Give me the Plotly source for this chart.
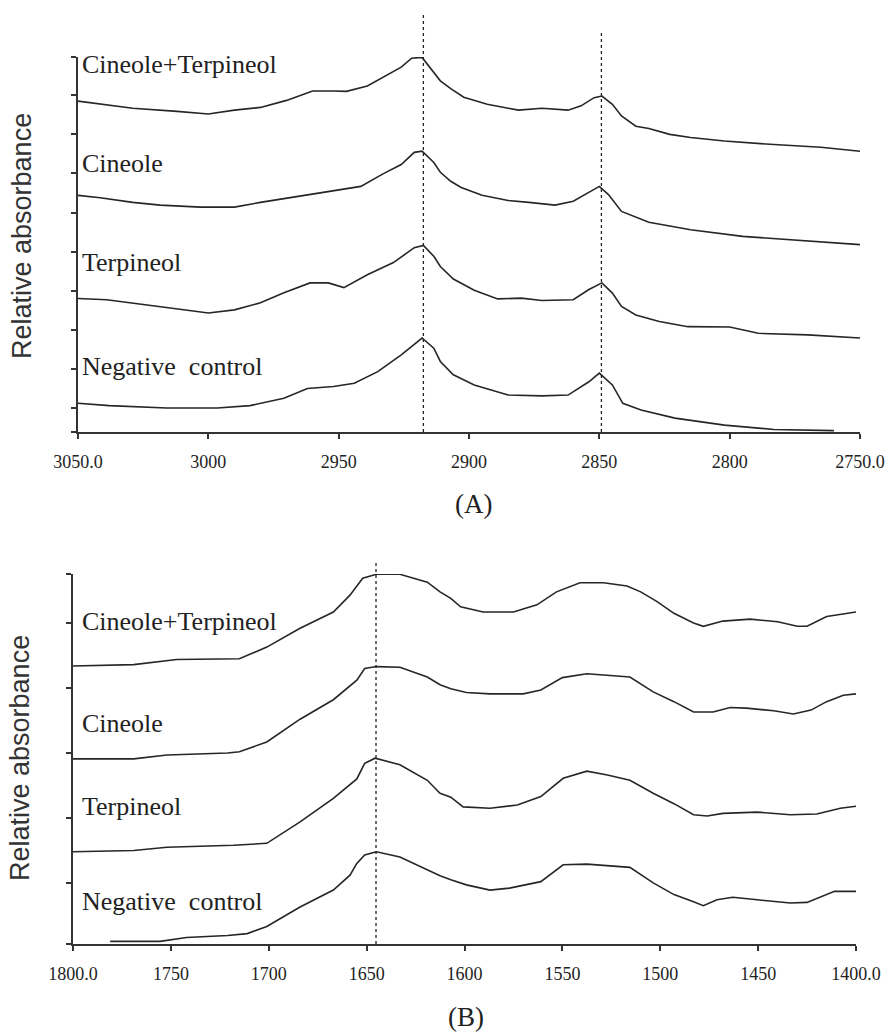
import plotly.graph_objects as go

# ---------------- Panel A (C-H stretching region) ----------------
a_ticks = [3050, 3000, 2950, 2900, 2850, 2800, 2750]
a_ticktext = ["3050.0", "3000", "2950", "2900", "2850", "2800", "2750.0"]
a_peaks = [2917.5, 2849.2]

a_ct_x = [3050, 3029, 3012, 3000, 2990, 2980, 2970, 2963, 2960, 2952, 2947, 2939, 2933, 2926, 2922, 2918,
          2911, 2907, 2902, 2893, 2885, 2881, 2872, 2862, 2857, 2852, 2849, 2845, 2841.5, 2836, 2831, 2823,
          2815, 2802, 2783, 2765, 2750]
a_ct_y = [7.85, 7.67, 7.59, 7.52, 7.62, 7.69, 7.87, 8.05, 8.11, 8.11, 8.10, 8.24, 8.47, 8.72, 8.95, 8.97,
          8.37, 8.17, 7.95, 7.77, 7.67, 7.62, 7.67, 7.62, 7.73, 7.94, 7.98, 7.77, 7.47, 7.21, 7.15, 7.0,
          6.92, 6.83, 6.74, 6.67, 6.57]

a_ci_x = [3050, 3041.5, 3029, 3018.5, 3003, 2990, 2980, 2965, 2952, 2941.5, 2933, 2926, 2921, 2918, 2913.5,
          2911, 2907, 2903, 2895, 2885, 2877, 2867, 2860, 2854, 2850, 2846.5, 2841.5, 2831, 2815, 2795,
          2772, 2750]
a_ci_y = [5.44, 5.38, 5.26, 5.19, 5.14, 5.14, 5.26, 5.42, 5.55, 5.67, 5.99, 6.23, 6.54, 6.57, 6.28,
          6.03, 5.80, 5.64, 5.44, 5.31, 5.26, 5.19, 5.29, 5.51, 5.67, 5.46, 5.03, 4.75, 4.56, 4.39,
          4.29, 4.18]

a_te_x = [3050, 3039, 3022, 3009.6, 3000, 2990, 2980, 2971, 2961, 2954, 2948, 2939, 2929, 2921, 2917.5,
          2913.5, 2911, 2906, 2898, 2889, 2880, 2872, 2860, 2854, 2849, 2845, 2841.5, 2836, 2827, 2816,
          2800, 2789, 2770, 2750]
a_te_y = [2.80, 2.77, 2.62, 2.51, 2.43, 2.51, 2.69, 2.95, 3.20, 3.20, 3.08, 3.41, 3.72, 4.10, 4.16,
          3.88, 3.62, 3.30, 3.01, 2.79, 2.81, 2.75, 2.77, 3.03, 3.20, 2.94, 2.60, 2.38, 2.21, 2.08,
          2.07, 1.91, 1.87, 1.79]

a_nc_x = [3050, 3038, 3016, 2996.5, 2984, 2971, 2962, 2952, 2944, 2935, 2926, 2918, 2913.5, 2911, 2906,
          2898, 2885, 2872, 2862, 2854, 2850, 2845, 2841, 2834, 2821, 2802, 2783, 2760]
a_nc_y = [0.12, 0.06, 0.0, 0.0, 0.06, 0.25, 0.50, 0.55, 0.63, 0.93, 1.36, 1.79, 1.53, 1.19, 0.85,
          0.59, 0.33, 0.31, 0.33, 0.67, 0.89, 0.59, 0.12, -0.05, -0.26, -0.44, -0.55, -0.58]

# ---------------- Panel B (amide region) ----------------
b_ticks = [1800, 1750, 1700, 1650, 1600, 1550, 1500, 1450, 1400]
b_ticktext = ["1800.0", "1750", "1700", "1650", "1600", "1550", "1500", "1450", "1400.0"]
b_peaks = [1645.2]

b_ct_x = [1800, 1769, 1747, 1715, 1701, 1684, 1667, 1658.5, 1652, 1645, 1633, 1619, 1612.5, 1607, 1602,
          1590.5, 1575, 1563, 1553, 1541, 1529, 1517, 1510, 1501.6, 1493, 1483, 1478, 1468, 1454, 1440,
          1430, 1425, 1415, 1400]
b_ct_y = [3.34, 3.36, 3.44, 3.45, 3.63, 3.92, 4.17, 4.43, 4.69, 4.75, 4.75, 4.63, 4.48, 4.38, 4.25,
          4.17, 4.17, 4.28, 4.48, 4.62, 4.62, 4.57, 4.48, 4.33, 4.15, 4.0, 3.95, 4.03, 4.06, 4.02,
          3.95, 3.95, 4.10, 4.17]

b_ci_x = [1800, 1769, 1752, 1721, 1715, 1701, 1684, 1667, 1655, 1651, 1645, 1633, 1619, 1612.5, 1607,
          1599, 1587, 1570, 1561, 1550, 1537.5, 1515.5, 1503.6, 1493, 1483, 1473, 1464.3, 1456, 1442,
          1432, 1423, 1415, 1406.5, 1400]
b_ci_y = [1.91, 1.91, 1.97, 2.0, 2.02, 2.17, 2.52, 2.82, 3.12, 3.30, 3.33, 3.32, 3.17, 3.05, 2.99,
          2.93, 2.91, 2.91, 2.97, 3.16, 3.22, 3.17, 2.94, 2.79, 2.63, 2.63, 2.70, 2.69, 2.65,
          2.60, 2.66, 2.79, 2.89, 2.91]

b_te_x = [1800, 1769, 1752, 1718, 1701, 1684, 1667, 1655, 1651, 1645.7, 1633, 1619, 1612.5, 1607, 1600.7,
          1587, 1573, 1561, 1549.6, 1537.5, 1527, 1515.5, 1503.6, 1493, 1483, 1476, 1468, 1450.5, 1433.6,
          1420, 1408, 1400]
b_te_y = [0.48, 0.50, 0.55, 0.58, 0.61, 0.94, 1.30, 1.60, 1.84, 1.92, 1.82, 1.58, 1.38, 1.32, 1.17,
          1.15, 1.20, 1.33, 1.61, 1.72, 1.66, 1.58, 1.38, 1.22, 1.05, 1.03, 1.07, 1.09, 1.05,
          1.06, 1.15, 1.18]

b_nc_x = [1781, 1755.5, 1742, 1721, 1711, 1701, 1684, 1667, 1658.5, 1655, 1651, 1645, 1633, 1619, 1612.5,
          1607, 1599, 1587, 1577, 1561, 1549.6, 1537.5, 1515.5, 1503.6, 1493, 1483, 1478, 1471, 1463,
          1450.5, 1433.6, 1425, 1411, 1400]
b_nc_y = [-0.90, -0.90, -0.84, -0.81, -0.78, -0.67, -0.37, -0.11, 0.12, 0.30, 0.43, 0.48, 0.40, 0.20, 0.11,
          0.05, -0.03, -0.11, -0.08, 0.02, 0.28, 0.29, 0.24, 0.0, -0.18, -0.29, -0.35, -0.26, -0.22,
          -0.26, -0.31, -0.30, -0.13, -0.13]

labels = ["Cineole+Terpineol", "Cineole", "Terpineol", "Negative\u00a0\u00a0control"]

LINE = "#262626"
AX = "#333333"
W, H = 889, 1034

fig = go.Figure()
for xs, ys in [(a_ct_x, a_ct_y), (a_ci_x, a_ci_y), (a_te_x, a_te_y), (a_nc_x, a_nc_y)]:
    fig.add_trace(go.Scatter(x=xs, y=ys, mode="lines", line=dict(color=LINE, width=1.6),
                             xaxis="x", yaxis="y", showlegend=False, hoverinfo="skip"))
for xs, ys in [(b_ct_x, b_ct_y), (b_ci_x, b_ci_y), (b_te_x, b_te_y), (b_nc_x, b_nc_y)]:
    fig.add_trace(go.Scatter(x=xs, y=ys, mode="lines", line=dict(color=LINE, width=1.6),
                             xaxis="x2", yaxis="y2", showlegend=False, hoverinfo="skip"))

tickfont = dict(family="Liberation Serif, Times New Roman, serif", size=18, color="#222")
xcommon = dict(showline=True, linecolor=AX, linewidth=1.5, ticks="outside", ticklen=5, tickwidth=1.5,
               tickcolor=AX, showgrid=False, zeroline=False, tickfont=tickfont, ticklabelstandoff=8,
               automargin=False)
ycommon = dict(showline=True, linecolor=AX, linewidth=1.5, ticks="outside", ticklen=5, tickwidth=1.5,
               tickcolor=AX, showgrid=False, zeroline=False, showticklabels=False, automargin=False)

a_yr = [-0.615, 8.98]
b_yr = [-0.94, 4.755]

fig.update_layout(
    width=W, height=H, margin=dict(l=0, r=0, t=0, b=0, autoexpand=False),
    paper_bgcolor="white", plot_bgcolor="white",
    xaxis=dict(domain=[78 / W, 860 / W], range=[3050, 2750], tickvals=a_ticks, ticktext=a_ticktext,
               anchor="y", **xcommon),
    yaxis=dict(domain=[1 - 432 / H, 1 - 57 / H], range=a_yr, tickvals=[a_yr[0]] + list(range(0, 9)) + [a_yr[1]],
               anchor="x", **ycommon),
    xaxis2=dict(domain=[73 / W, 856 / W], range=[1800, 1400], tickvals=b_ticks, ticktext=b_ticktext,
                anchor="y2", **xcommon),
    yaxis2=dict(domain=[1 - 944 / H, 1 - 574 / H], range=b_yr, tickvals=[b_yr[0], 0, 1, 2, 3, 4, b_yr[1]],
                anchor="x2", **ycommon),
)

# dotted peak markers
for p, top in zip(a_peaks, [1 - 15 / H, 1 - 32 / H]):
    fig.add_shape(type="line", xref="x", yref="paper", x0=p, x1=p, y0=1 - 432 / H, y1=top,
                  line=dict(color="#222", width=1.3, dash="dot"))
for p in b_peaks:
    fig.add_shape(type="line", xref="x2", yref="paper", x0=p, x1=p, y0=1 - 944 / H, y1=1 - 562 / H,
                  line=dict(color="#222", width=1.3, dash="dot"))

lab_font = dict(family="Liberation Serif, Times New Roman, serif", size=26, color="#222")
a_lab_y = [8.79, 6.26, 3.72, 1.05]
b_lab_y = [4.02, 2.45, 1.17, -0.29]
for t, yv in zip(labels, a_lab_y):
    fig.add_annotation(text=t, x=3049.3, y=yv, xref="x", yref="y", xanchor="left", yanchor="middle",
                       showarrow=False, font=lab_font)
for t, yv in zip(labels, b_lab_y):
    fig.add_annotation(text=t, x=1796.4, y=yv, xref="x2", yref="y2", xanchor="left", yanchor="middle",
                       showarrow=False, font=lab_font)

ttl_font = dict(family="Liberation Sans, Arial, sans-serif", size=27, color="#333")
fig.add_annotation(text="Relative absorbance", x=22 / W, y=1 - 236 / H, xref="paper", yref="paper",
                   textangle=-90, showarrow=False, font=ttl_font, xanchor="center", yanchor="middle")
fig.add_annotation(text="Relative absorbance", x=20 / W, y=1 - 758 / H, xref="paper", yref="paper",
                   textangle=-90, showarrow=False, font=ttl_font, xanchor="center", yanchor="middle")

cap_font = dict(family="Liberation Serif, Times New Roman, serif", size=27, color="#222")
fig.add_annotation(text="(A)", x=473 / W, y=1 - 504 / H, xref="paper", yref="paper", showarrow=False,
                   font=cap_font, xanchor="center", yanchor="middle")
fig.add_annotation(text="(B)", x=466 / W, y=0, xref="paper", yref="paper", showarrow=False,
                   font=cap_font, xanchor="center", yanchor="bottom")

fig.write_html("out.html", config={"displayModeBar": False},
               post_script="document.body.style.margin='0';document.body.style.overflow='hidden';")
